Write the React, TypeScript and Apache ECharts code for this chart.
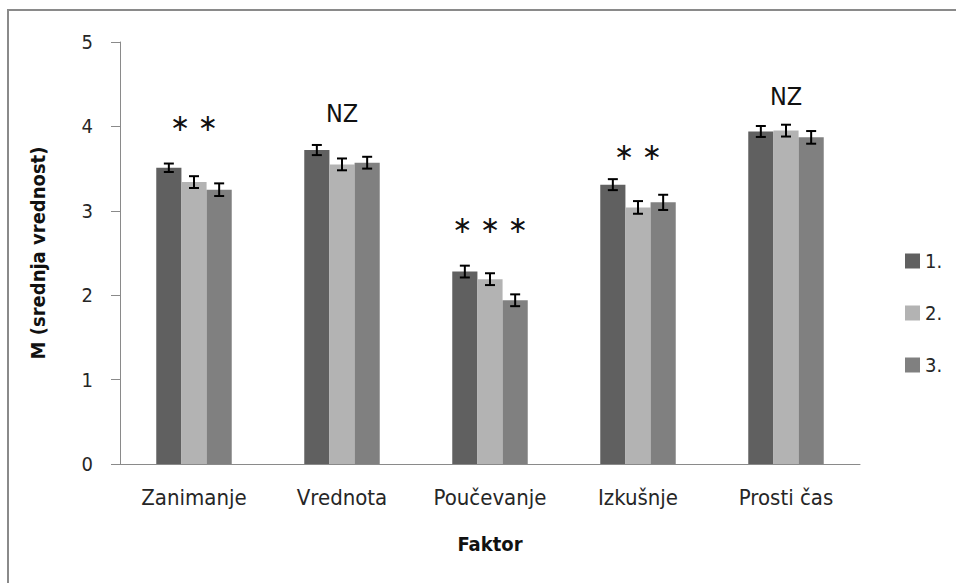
import React, { useEffect, useRef } from "react";
import * as echarts from "echarts";

// Factor categories and group means (1., 2., 3.) with standard errors
const categories = ["Zanimanje", "Vrednota", "Poučevanje", "Izkušnje", "Prosti čas"];
const seriesNames = ["1.", "2.", "3."];
const means1 = [3.51, 3.72, 2.28, 3.31, 3.94];
const means2 = [3.34, 3.55, 2.19, 3.04, 3.95];
const means3 = [3.25, 3.57, 1.94, 3.1, 3.87];
const err1 = [0.05, 0.06, 0.07, 0.065, 0.065];
const err2 = [0.07, 0.07, 0.07, 0.075, 0.07];
const err3 = [0.075, 0.07, 0.07, 0.09, 0.075];
const colors = ["#606060", "#b3b3b3", "#808080"];

// Significance marks above each factor
const sigLabels = ["∗ ∗", "NZ", "∗ ∗ ∗", "∗ ∗", "NZ"];
const sigHeights = [4.04, 4.15, 2.83, 3.7, 4.35];

const yTicks = [0, 1, 2, 3, 4, 5];

const FONT = "'DejaVu Sans Condensed', 'Noto Sans', sans-serif";
const TEXT = "#262626";
const CAT_GAP = 0.49;

export default function App() {
  const ref = useRef<HTMLDivElement>(null);

  useEffect(() => {
    document.body.style.margin = "0";
    if (!ref.current) return;
    const chart = echarts.init(ref.current, undefined, { renderer: "svg" });

    const means = [means1, means2, means3];
    const errs = [err1, err2, err3];

    const barSeries = means.map((m, i) => ({
      name: seriesNames[i],
      type: "bar",
      data: m,
      barGap: "0%",
      barCategoryGap: `${CAT_GAP * 100}%`,
      itemStyle: { color: colors[i] },
      z: 2,
    }));

    const errorSeries = means.map((m, i) => ({
      name: `err${i}`,
      type: "custom",
      z: 5,
      data: m.map((v, k) => [k, v, errs[i][k]]),
      renderItem: (params: any, api: any) => {
        const k = api.value(0);
        const v = api.value(1);
        const e = api.value(2);
        const catW = api.size([1, 0])[0];
        const barW = (catW * (1 - CAT_GAP)) / 3;
        const center = api.coord([k, v]);
        const x = center[0] + (i - 1) * barW;
        const top = api.coord([k, v + e])[1];
        const bot = api.coord([k, v - e])[1];
        const half = 5;
        const style = { stroke: "#000", lineWidth: 2 };
        return {
          type: "group",
          children: [
            { type: "line", shape: { x1: x, y1: top, x2: x, y2: bot }, style },
            { type: "line", shape: { x1: x - half, y1: top, x2: x + half, y2: top }, style },
            { type: "line", shape: { x1: x - half, y1: bot, x2: x + half, y2: bot }, style },
          ],
        };
      },
    }));

    const sigSeries = {
      name: "sig",
      type: "custom",
      z: 6,
      data: sigHeights.map((h, k) => [k, h]),
      renderItem: (params: any, api: any) => {
        const k = api.value(0);
        const p = api.coord([k, api.value(1)]);
        const label = sigLabels[k];
        const isStar = label.indexOf("∗") >= 0;
        return {
          type: "text",
          x: p[0],
          y: p[1],
          style: {
            text: label,
            align: "center",
            verticalAlign: "middle",
            fontFamily: isStar ? "'DejaVu Sans', sans-serif" : FONT,
            fontSize: isStar ? 24 : 25,
            fill: "#111",
          },
        };
      },
    };

    chart.setOption({
      animation: false,
      backgroundColor: "#fff",
      textStyle: { fontFamily: FONT, color: TEXT },
      graphic: [
        {
          type: "rect",
          shape: { x: 8, y: 10, width: 1000, height: 700 },
          style: { fill: "none", stroke: "#8a8a8a", lineWidth: 2 },
          z: 10,
        },
      ],
      grid: { left: 120, right: 96, top: 42, bottom: 119 },
      legend: {
        data: seriesNames,
        orient: "vertical",
        left: 900,
        top: 246,
        itemWidth: 15,
        itemHeight: 15,
        itemGap: 32,
        icon: "rect",
        textStyle: { fontFamily: FONT, fontSize: 20, color: TEXT },
      },
      xAxis: {
        type: "category",
        data: categories,
        name: "Faktor",
        nameLocation: "middle",
        nameGap: 70,
        nameTextStyle: { fontFamily: FONT, fontSize: 20, fontWeight: "bold", color: "#111" },
        axisLine: { lineStyle: { color: "#8a8a8a", width: 1 } },
        axisTick: { show: false },
        axisLabel: {
          fontFamily: FONT,
          fontSize: 22,
          color: TEXT,
          margin: 22,
          interval: 0,
          hideOverlap: false,
        },
      },
      yAxis: {
        type: "value",
        min: yTicks[0],
        max: yTicks[yTicks.length - 1],
        interval: 1,
        name: "M (srednja vrednost)",
        nameLocation: "middle",
        nameGap: 72,
        nameTextStyle: { fontFamily: FONT, fontSize: 20, fontWeight: "bold", color: "#111" },
        axisLine: { show: true, lineStyle: { color: "#8a8a8a", width: 1 } },
        axisTick: { show: true, length: 9, lineStyle: { color: "#8a8a8a" } },
        splitLine: { show: false },
        axisLabel: { fontFamily: FONT, fontSize: 20, color: TEXT, margin: 27 },
      },
      series: [...barSeries, ...errorSeries, sigSeries],
    });

    return () => chart.dispose();
  }, []);

  return <div ref={ref} style={{ width: 956, height: 583 }} />;
}
